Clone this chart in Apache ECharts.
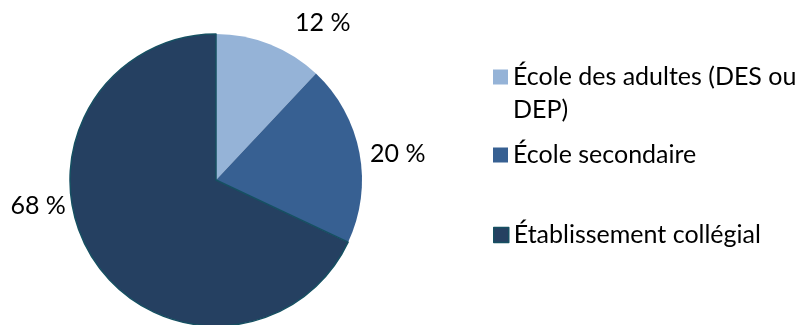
<!DOCTYPE html>
<html>
<head>
<meta charset="utf-8">
<script src="https://cdn.jsdelivr.net/npm/echarts@6/dist/echarts.min.js"></script>
<style>
  html, body { margin: 0; padding: 0; background: #ffffff; }
  #chart { width: 796px; height: 325px; }
</style>
</head>
<body>
<div id="chart"></div>
<script>
// Répartition par type d'établissement (%)
const categories = ['École des adultes (DES ou DEP)', 'École secondaire', 'Établissement collégial'];
const values = [12, 20, 68];
// legend text with manual wrapping; the leading blank line keeps the
// swatch level with the first line of the wrapped entry
const legendLines = {
  'École des adultes (DES ou DEP)': ' \nÉcole des adultes (DES ou\nDEP)'
};
const sliceColors = ['#95B3D7', '#376092', '#254061'];
// nudges for the value labels, in px
const labelNudge = [[13, -3], [-14, 5], [-5, -63]];

const FONT = 'Lato';
const FS = 25;
const LH = 33;
const chart = echarts.init(document.getElementById('chart'), null, { renderer: 'canvas' });

const data = categories.map((name, i) => ({
  name: name,
  value: values[i],
  itemStyle: i === 2
    ? { color: sliceColors[i], borderColor: '#165062', borderWidth: 1.5 }
    : { color: sliceColors[i], borderWidth: 0 }
}));

// swatch centres of the three legend entries
const legendCentres = [77, 155, 235];
const legends = categories.map((name, i) => {
  const lines = i === 0 ? 3 : 1;
  return {
    data: [name],
    orient: 'vertical',
    left: 493,
    top: legendCentres[i] - lines * LH / 2,
    padding: 0,
    itemWidth: 15,
    itemHeight: 15,
    itemGap: 0,
    icon: 'rect',
    selectedMode: false,
    formatter: n => legendLines[n] || n,
    itemStyle: i === 2 ? { borderColor: '#165062', borderWidth: 1.5 } : { borderWidth: 0 },
    textStyle: {
      fontFamily: FONT,
      fontSize: FS,
      color: '#000000',
      lineHeight: LH
    }
  };
});

chart.setOption({
  animation: false,
  legend: legends,
  series: [{
    type: 'pie',
    center: [216, 180],
    radius: 146,
    startAngle: 90,
    clockwise: true,
    data: data,
    emphasis: { disabled: true },
    label: {
      show: true,
      position: 'outside',
      formatter: p => p.value + ' %',
      fontFamily: FONT,
      fontSize: FS,
      color: '#000000'
    },
    labelLine: { show: false, length: 20, length2: 0 },
    labelLayout: p => ({ dx: labelNudge[p.dataIndex][0], dy: labelNudge[p.dataIndex][1] })
  }]
});
</script>
</body>
</html>
